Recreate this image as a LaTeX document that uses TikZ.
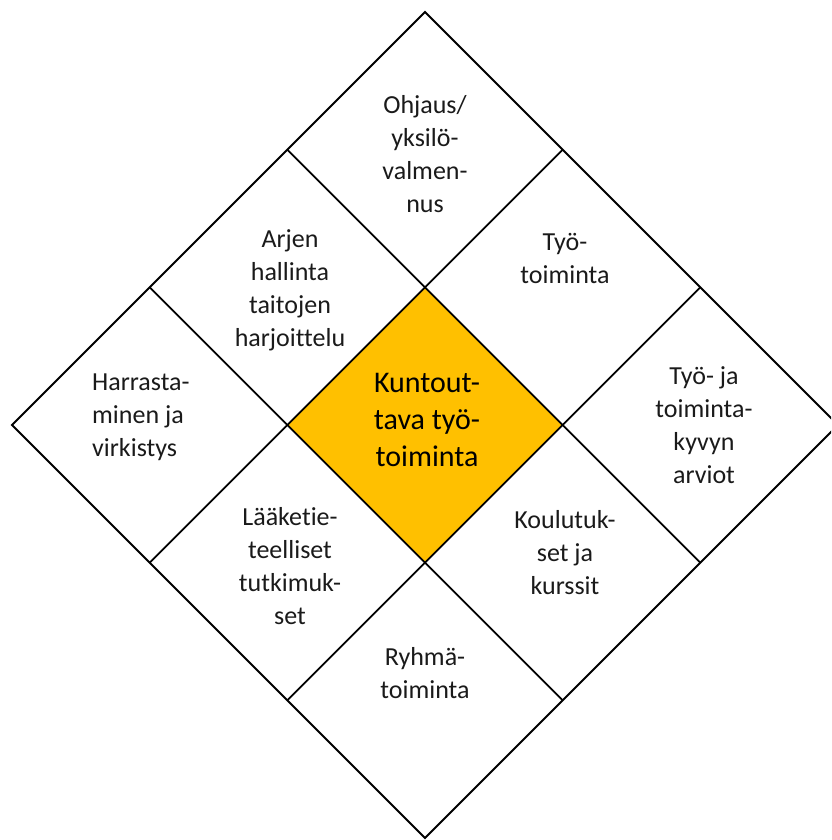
\documentclass[tikz,border=0pt]{standalone}
\usepackage{fontspec}
\setmainfont{Carlito}[Ligatures=NoCommon]
\definecolor{gold}{HTML}{FFC000}
\definecolor{ink}{HTML}{1A1A1A}
\begin{document}
\begin{tikzpicture}[x=1pt,y=-1pt,
  gridline/.style={line width=1.8pt, draw=black, line join=miter},
  lbl/.style={font=\fontsize{26}{33}\selectfont, align=center, inner sep=0pt, text=ink},
  ctrlbl/.style={font=\fontsize{30}{37}\selectfont, align=center, inner sep=0pt, text=black}]
\useasboundingbox (0,0) rectangle (831,840);
\clip (0,0) rectangle (831,840);
% grid points P(i,j)
\coordinate (p00) at (425,12);
\coordinate (p01) at (562.67,149.67);
\coordinate (p02) at (700.33,287.33);
\coordinate (p03) at (838,425);
\coordinate (p10) at (287.33,149.67);
\coordinate (p11) at (425,287.33);
\coordinate (p12) at (562.67,425);
\coordinate (p13) at (700.33,562.67);
\coordinate (p20) at (149.67,287.33);
\coordinate (p21) at (287.33,425);
\coordinate (p22) at (425,562.67);
\coordinate (p23) at (562.67,700.33);
\coordinate (p30) at (12,425);
\coordinate (p31) at (149.67,562.67);
\coordinate (p32) at (287.33,700.33);
\coordinate (p33) at (425,838);
% centre fill
\fill[gold] (p11) -- (p12) -- (p22) -- (p21) -- cycle;
% grid lines
\draw[gridline] (p00) -- (p03) -- (p33) -- (p30) -- cycle;
\draw[gridline] (p10) -- (p13);
\draw[gridline] (p20) -- (p23);
\draw[gridline] (p01) -- (p31);
\draw[gridline] (p02) -- (p32);
% labels
\node[lbl] (ohj) at (425,154) {Ohjaus/\\yksilö-\\valmen-\\nus};
\node[lbl] (arj) at (290,290.5) {Arjen\\hallinta\\taitojen\\harjoittelu};
\node[lbl] (tyo) at (565,258) {Työ-\\toiminta};
\node[lbl, align=left, anchor=west] (har) at (92,417.5) {Harrasta-\\minen ja\\virkistys};
\node[ctrlbl] (ktt) at (427,420) {Kuntout-\\tava työ-\\toiminta};
\node[lbl] (arv) at (704,425) {Työ- ja\\toiminta-\\kyvyn\\arviot};
\node[lbl] (laa) at (290,566) {Lääketie-\\teelliset\\tutkimuk-\\set};
\node[lbl] (kou) at (565,553) {Koulutuk-\\set ja\\kurssit};
\node[lbl] (ryh) at (425,673) {Ryhmä-\\toiminta};
\end{tikzpicture}
\end{document}
